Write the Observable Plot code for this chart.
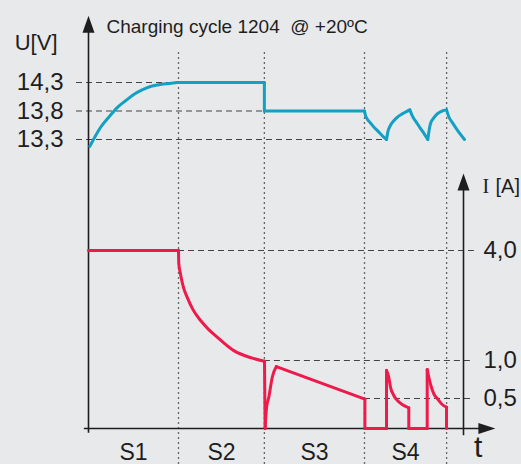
<!DOCTYPE html>
<html>
<head>
<meta charset="utf-8">
<script src="https://cdn.jsdelivr.net/npm/d3@7"></script>
<script src="https://cdn.jsdelivr.net/npm/@observablehq/plot@0.6"></script>
<style>
  html, body { margin: 0; padding: 0; background: #e8e9eb; }
  #chart svg { display: block; }
</style>
</head>
<body>
<div id="chart"></div>
<script>
// ---------- data (time t in % of the cycle) ----------
const title = "Charging cycle 1204\u00a0 @ +20\u00baC";
const stageBounds = [0, 24, 46.9, 73.6, 95.5];
const stageNames = ["S1", "S2", "S3", "S4"];

const voltageTicks = [14.3, 13.8, 13.3];
const voltageTickLabels = ["14,3", "13,8", "13,3"];
const voltageGridEnd = [24, 46.9, 79.5];

const currentTicks = [4.0, 1.0, 0.5];
const currentTickLabels = ["4,0", "1,0", "0,5"];
const currentGridStart = [24, 46.9, 73.6];

const voltageT = [0.35, 1.41, 3.2, 5.41, 7.65, 9.87, 12.08, 14.3, 16.5, 18.75, 21.0, 23.65, 24,
  46.9, 46.9, 73.6,
  73.87, 74.32, 75.2, 76.08, 76.99, 77.87, 78.75, 79.47,
  79.81, 80.53, 81.41, 82.32, 83.65, 85.41, 85.68,
  86.32, 87.65, 88.99, 90.48,
  90.83, 91.2, 92.08, 92.99, 94.32, 95.47,
  96.08, 96.99, 98.32, 100.27];
const voltageV = [13.18, 13.31, 13.51, 13.69, 13.86, 13.98, 14.09, 14.17, 14.23, 14.26, 14.28, 14.3, 14.3,
  14.3, 13.8, 13.8,
  13.72, 13.66, 13.59, 13.52, 13.46, 13.40, 13.34, 13.3,
  13.43, 13.55, 13.63, 13.69, 13.75, 13.81, 13.82,
  13.72, 13.58, 13.45, 13.3,
  13.46, 13.58, 13.68, 13.75, 13.80, 13.82,
  13.70, 13.60, 13.47, 13.3];

const currentT = [0, 24, 24.08, 24.53, 25.3, 26.3, 27.9, 29.9, 32.0, 34.3, 38.75, 43.5, 46.93,
  46.93, 47.1, 47.5, 48.1, 49.0, 50.1, 73.7,
  73.7, 79.47, 79.47, 80.08, 80.53, 81.41, 82.32, 83.65, 84.99, 85.41,
  85.41, 90.32, 90.32, 90.75, 91.2, 92.08, 92.99, 94.32, 95.47, 95.47];
const currentI = [4.0, 4.0, 3.64, 3.36, 3.0, 2.73, 2.38, 2.09, 1.85, 1.64, 1.27, 1.07, 0.99,
  0.99, 0, 0.36, 0.52, 0.78, 0.92, 0.49,
  0, 0, 0.87, 0.78, 0.65, 0.54, 0.47, 0.40, 0.355, 0.345,
  0, 0, 0.88, 0.78, 0.69, 0.56, 0.50, 0.40, 0.355, 0];

// ---------- derived tables ----------
const U = voltageT.map((t, i) => ({t, v: voltageV[i]}));
const I = currentT.map((t, i) => ({t, v: currentI[i]}));
const vGrid = voltageTicks.map((v, k) => ({v, end: voltageGridEnd[k], label: voltageTickLabels[k]}));
const iGrid = currentTicks.map((i, k) => ({i, start: currentGridStart[k], label: currentTickLabels[k]}));
const stages = stageNames.map((name, k) => ({name, mid: (stageBounds[k] + stageBounds[k + 1]) / 2}));

// split a trace into monotone pieces so a smooth curve keeps the sharp corners
function pieces(points) {
  const out = [];
  let seg = 0, prev = null;
  for (let k = 1; k < points.length; k++) {
    const a = points[k - 1], b = points[k];
    const dir = b.t === a.t ? "v" : Math.sign(b.v - a.v);
    if (dir !== prev) { seg++; out.push({...a, seg}); prev = dir; }
    out.push({...b, seg});
  }
  return out;
}

// arrow heads (tip at the anchor point)
const arrowUp = {draw(ctx) { ctx.moveTo(0, 0); ctx.lineTo(-6, 17); ctx.lineTo(6, 17); ctx.closePath(); }};
const arrowRight = {draw(ctx) { ctx.moveTo(0, 0); ctx.lineTo(-17, -5.5); ctx.lineTo(-17, 5.5); ctx.closePath(); }};

const ink = "#1e1e1e";
const sans = "'Liberation Sans', Arial, sans-serif";

const chart = Plot.plot({
  width: 521,
  height: 464,
  margin: 0,
  x: {domain: [0, 100], range: [88, 463], axis: null},
  // one shared vertical scale: current (0–4 A, schematic) below, voltage (13–14.3 V) above
  y: {type: "linear", domain: [0, 0.5, 1, 4, 6.2, 13, 14.3], range: [428, 398, 360, 250, 173, 156.1, 82], axis: null},
  style: {background: "#e8e9eb", fontFamily: sans, color: ink},
  marks: [
    Plot.ruleX(stageBounds.slice(1), {y1: -0.6, y2: 14.83, stroke: "#666", strokeWidth: 1.3, strokeDasharray: "2,3"}),
    Plot.ruleY(vGrid, {y: "v", x1: -3.2, x2: "end", stroke: "#444", strokeWidth: 1.2, strokeDasharray: "6,4"}),
    Plot.ruleY(iGrid, {y: "i", x1: "start", x2: 102.9, stroke: "#444", strokeWidth: 1.2, strokeDasharray: "6,4"}),
    // axes
    Plot.ruleX([0], {y1: -0.08, y2: 15.2, stroke: ink, strokeWidth: 1.6}),
    Plot.ruleX([100], {y1: -0.12, y2: 6.0, stroke: ink, strokeWidth: 1.6}),
    Plot.ruleY([0], {x1: -1.1, x2: 105, stroke: ink, strokeWidth: 1.6}),
    Plot.dot([{t: 0, y: 15.47}, {t: 100, y: 6.2}], {x: "t", y: "y", symbol: arrowUp, fill: ink, stroke: "none"}),
    Plot.dot([{t: 108.5, y: 0}], {x: "t", y: "y", symbol: arrowRight, fill: ink, stroke: "none"}),
    // curves
    Plot.line(pieces(U), {x: "t", y: "v", z: "seg", curve: "monotone-x", stroke: "#12a0c4", strokeWidth: 3}),
    Plot.line(pieces(I), {x: "t", y: "v", z: "seg", curve: "monotone-x", stroke: "#ee1a4c", strokeWidth: 3}),
    // labels
    Plot.text(vGrid, {x: 0, y: "v", text: "label", textAnchor: "end", dx: -25, fontSize: 24}),
    Plot.text(iGrid, {x: 100, y: "i", text: "label", textAnchor: "start", dx: 20, fontSize: 24}),
    Plot.text(["U[V]"], {x: 0, y: 15.0, text: d => d, textAnchor: "end", dx: -31, fontSize: 22}),
    Plot.text(["I"], {x: 100, y: 5.82, text: d => d, textAnchor: "start", dx: 19, fontSize: 20, fontFamily: "'Liberation Serif', 'Times New Roman', serif"}),
    Plot.text(["[A]"], {x: 100, y: 5.82, text: d => d, textAnchor: "start", dx: 32, fontSize: 20}),
    Plot.text(stages, {x: "mid", y: 0, text: "name", dy: 24, fontSize: 23}),
    Plot.text(["t"], {x: 103.9, y: 0, text: d => d, dy: 19, fontSize: 30}),
    Plot.text([title], {frameAnchor: "top-left", text: d => d, textAnchor: "start", dx: 106, dy: 19, fontSize: 19})
  ]
});
document.getElementById("chart").appendChild(chart);
</script>
</body>
</html>
